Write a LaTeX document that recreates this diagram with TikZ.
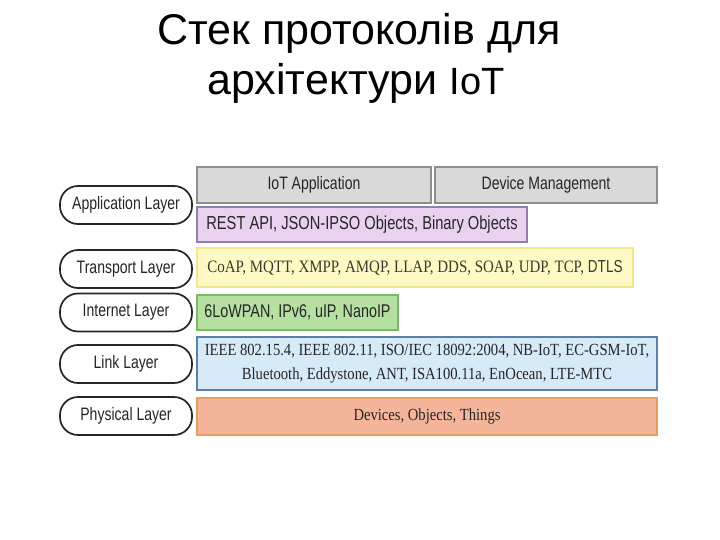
\documentclass[tikz,border=0pt]{standalone}
\usepackage{fontspec}
\setmainfont{Liberation Sans}
\newfontfamily\narrowfont{Liberation Sans}[FakeStretch=0.78]
\newfontfamily\serifnarrow{Liberation Serif}[FakeStretch=0.86]
\definecolor{grayfill}{HTML}{D9D9D9}
\definecolor{grayline}{HTML}{8E8E8E}
\definecolor{purplefill}{HTML}{E8D2F0}
\definecolor{purpleline}{HTML}{8F7FAA}
\definecolor{yellowfill}{HTML}{FFF9C4}
\definecolor{yellowline}{HTML}{F2E58C}
\definecolor{greenfill}{HTML}{B6DFA2}
\definecolor{greenline}{HTML}{78B866}
\definecolor{bluefill}{HTML}{D6EAF7}
\definecolor{blueline}{HTML}{5D7FA8}
\definecolor{orangefill}{HTML}{F4B59B}
\definecolor{orangeline}{HTML}{E59F63}
\definecolor{txt}{HTML}{262626}
\tikzset{
  layerbox/.style={draw, line width=1.4pt, inner sep=0pt, outer sep=0pt, anchor=north west, text=txt},
  pill/.style={draw=black!85, line width=1.7pt, rounded corners=18pt, minimum width=132pt, inner sep=0pt, outer sep=0pt, text=txt, font=\narrowfont\fontsize{18}{20}\selectfont},
}
\begin{document}
\begin{tikzpicture}[x=1pt,y=-1pt]
\useasboundingbox[fill=white] (0,0) rectangle (720,540);
% title
\node[anchor=base, inner sep=0pt] (t1) at (359,45) {\fontsize{43}{50}\selectfont Стек протоколів для};
\node[anchor=base, inner sep=0pt] (t2) at (356,95) {\fontsize{43}{50}\selectfont архітектури {\fontsize{38}{50}\selectfont IoT}};
% left pills
\node[pill, minimum height=38pt] (app) at (126,205) {Application Layer};
\node[pill, minimum height=38pt] (trans) at (126,269) {Transport Layer};
\node[pill, minimum height=38pt] (inet) at (126,312.5) {Internet Layer};
\node[pill, minimum height=38pt] (lnk) at (126,364) {Link Layer};
\node[pill, minimum height=38pt] (phy) at (126,416) {Physical Layer};
% right boxes
\node[layerbox, draw=grayline, fill=grayfill, minimum width=234pt, minimum height=36pt,
  font=\narrowfont\fontsize{18}{20}\selectfont] (iotapp) at (197,167) {IoT Application};
\node[layerbox, draw=grayline, fill=grayfill, minimum width=222pt, minimum height=36pt,
  font=\narrowfont\fontsize{18}{20}\selectfont] (devm) at (435,167) {Device Management};
\node[layerbox, draw=purpleline, fill=purplefill, minimum width=330pt, minimum height=35pt,
  font=\narrowfont\fontsize{18.8}{20}\selectfont] (rest) at (197,207) {REST API, JSON-IPSO Objects, Binary Objects};
\node[layerbox, draw=yellowline, fill=yellowfill, minimum width=436pt, minimum height=39pt,
  font=\serifnarrow\fontsize{17.4}{20}\selectfont, text=black!75!olive] (coap) at (197,248) {CoAP, MQTT, XMPP, AMQP, LLAP, DDS, SOAP, UDP, TCP, {\narrowfont DTLS}};
\node[layerbox, draw=greenline, fill=greenfill, minimum width=201pt, minimum height=35pt,
  font=\narrowfont\fontsize{18.4}{20}\selectfont] (lowpan) at (197,295) {6LoWPAN, IPv6, uIP, NanoIP};
\node[layerbox, draw=blueline, fill=bluefill, minimum width=460pt, minimum height=53pt, align=center,
  font=\serifnarrow\fontsize{17}{24}\selectfont] (link) at (197,337) {IEEE 802.15.4, IEEE 802.11, ISO/IEC 18092:2004, NB-IoT, EC-GSM-IoT,\\Bluetooth, Eddystone, ANT, ISA100.11a, EnOcean, LTE-MTC};
\node[layerbox, draw=orangeline, fill=orangefill, minimum width=460pt, minimum height=37pt,
  font=\serifnarrow\fontsize{17}{20}\selectfont] (phys) at (197,398) {Devices, Objects, Things};
\end{tikzpicture}
\end{document}
